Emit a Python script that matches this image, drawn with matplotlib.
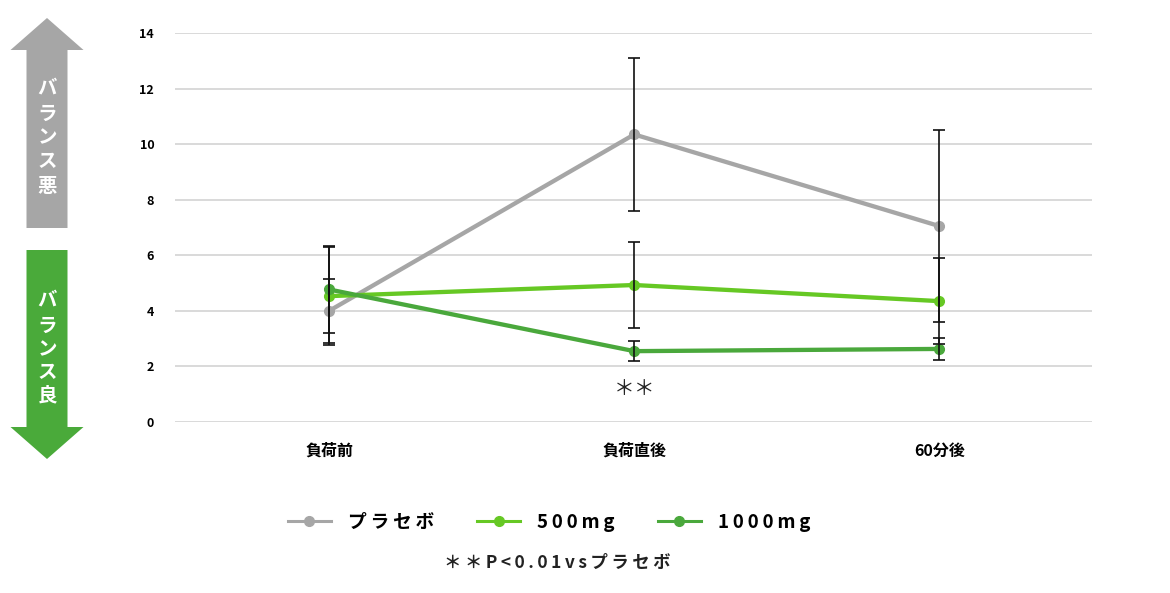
import matplotlib
matplotlib.use("Agg")
import matplotlib.pyplot as plt
from matplotlib.patches import Polygon

plt.rcParams['font.family'] = ['Noto Sans CJK JP', 'DejaVu Sans']

categories = ['負荷前', '負荷直後', '60分後']
series_names = ['プラセボ', '500mg', '1000mg']
placebo = [4.0, 10.35, 7.05]
placebo_err = [1.14, 2.75, 3.45]
mg500 = [4.53, 4.93, 4.35]
mg500_err = [1.76, 1.55, 1.55]
mg1000 = [4.77, 2.55, 2.63]
mg1000_err = [1.55, 0.37, 0.40]
yticks = [0, 2, 4, 6, 8, 10, 12, 14]
colors = ['#a6a6a6', '#66c824', '#4aa83c']
footnote = '＊＊P<0.01vsプラセボ'

TS = '\u2009'

def spaced(s, n=1):
    return (TS * n).join(s)

W, H = 1170, 593
fig = plt.figure(figsize=(W / 100, H / 100), dpi=100)
ax = fig.add_axes([175 / W, 1 - 422 / H, (1092 - 175) / W, (422 - 33) / H])

x = list(range(len(categories)))
for vals, errs, c, name in zip([placebo, mg500, mg1000],
                                [placebo_err, mg500_err, mg1000_err],
                                colors, series_names):
    ax.plot(x, vals, color=c, lw=3.1, marker='o', ms=7, label=spaced(name), zorder=3,
            clip_on=False)
    ax.errorbar(x, vals, yerr=errs, fmt='none', ecolor='#111111', elinewidth=1.2,
                capsize=4.5, capthick=1.2, zorder=4, clip_on=False)

ax.set_xlim(-0.505, 2.5)
ax.set_ylim(0, 14)
ax.set_yticks(yticks)
ax.set_yticklabels([str(v) for v in yticks], fontsize=9, fontweight='bold')
ax.set_xticks(x)
ax.set_xticklabels(categories, fontsize=11.5, fontweight='bold')
ax.tick_params(axis='y', length=0, pad=15)
ax.tick_params(axis='x', length=0, pad=15)
ax.grid(axis='y', color='#d0d0d0', lw=1.1)
ax.set_axisbelow(True)
for s in ax.spines.values():
    s.set_visible(False)

ax.text(1, 1.2, '＊＊', ha='center', va='center', fontsize=15, color='#222222')

leg = fig.legend(loc='center', bbox_to_anchor=(549 / W, 1 - 522 / H), ncol=3,
                 frameon=False, handlelength=2.3, columnspacing=2.3,
                 handletextpad=0.9, prop={'size': 13.5, 'weight': 'bold'})
for line in leg.get_lines():
    line.set_linewidth(2.2)

fig.text(557 / W, 1 - 563 / H, spaced(footnote), ha='center', va='center',
         fontsize=12.5, fontweight='bold', color='#222222')

def fp(px, py):
    return (px / W, 1 - py / H)

def arrow(tip_y, base_y, head_len, color, up=True):
    cx = 47
    sw, hw = 20.5, 36.5
    if up:
        hy = tip_y + head_len
    else:
        hy = tip_y - head_len
    pts = [fp(cx, tip_y), fp(cx + hw, hy), fp(cx + sw, hy), fp(cx + sw, base_y),
           fp(cx - sw, base_y), fp(cx - sw, hy), fp(cx - hw, hy)]
    fig.patches.append(Polygon(pts, closed=True, transform=fig.transFigure,
                               facecolor=color, edgecolor='none'))

arrow(18, 228, 32, '#a6a6a6', up=True)
arrow(459, 250, 32, '#4aaa3a', up=False)

for chars, ys in [('バランス悪', [88, 114, 138, 162, 186]),
                  ('バランス良', [300, 326, 350, 373, 396])]:
    for ch, yy in zip(chars, ys):
        fig.text(47 / W, 1 - yy / H, ch, ha='center', va='center', fontsize=14,
                 fontweight='bold', color='white')

fig.savefig('out.png', dpi=100)
